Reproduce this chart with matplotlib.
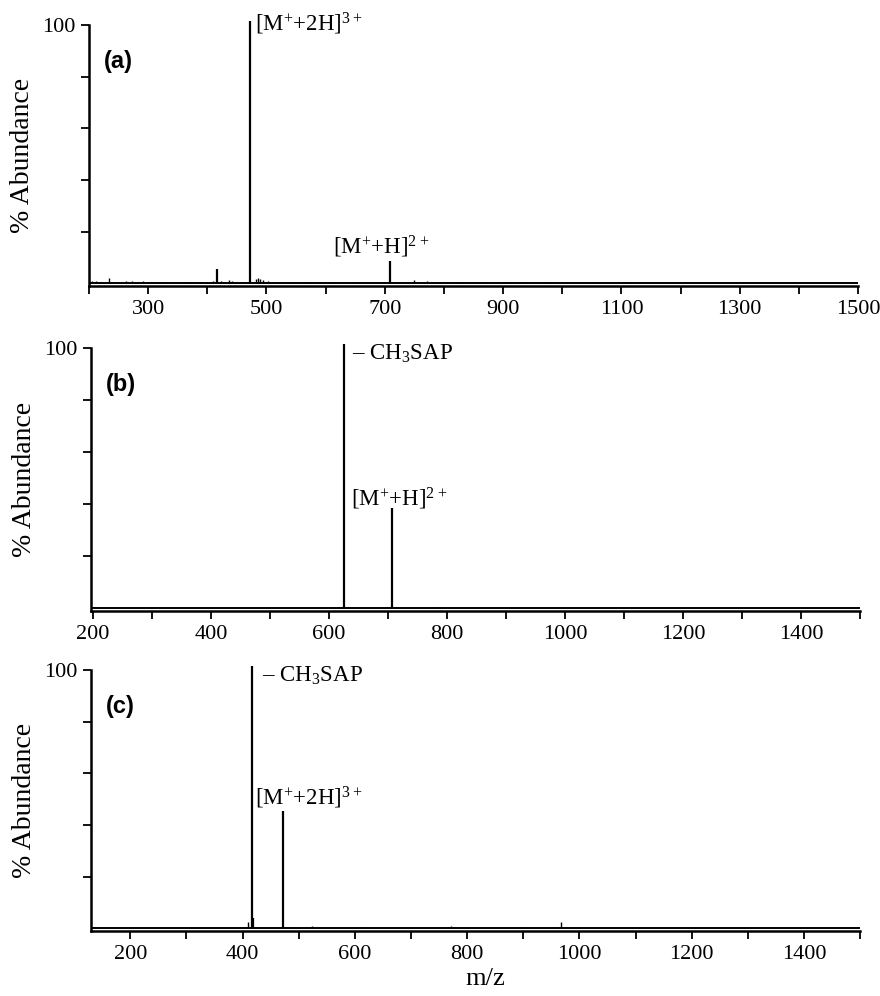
import matplotlib
matplotlib.use("Agg")
import matplotlib.pyplot as plt

plt.rcParams["font.family"] = "Liberation Serif"
plt.rcParams["mathtext.fontset"] = "custom"
plt.rcParams["mathtext.rm"] = "Liberation Serif"
plt.rcParams["mathtext.default"] = "regular"

# (a) full spectrum
a_mz = [205, 212, 234, 262, 272, 281, 291, 330, 368, 398, 410, 416, 423, 436, 442,
        472, 482, 486, 489, 494, 503, 515, 537, 568, 612, 650, 708, 750, 772, 790,
        828, 862, 904, 938, 972, 1062, 1108, 1168, 1252, 1422]
a_int = [1.0, 0.8, 2.0, 0.8, 0.9, 0.7, 1.0, 0.6, 0.5, 0.6, 1.0, 5.6, 1.1, 1.2, 0.9,
         101.5, 1.8, 2.0, 1.7, 1.2, 0.9, 0.7, 0.6, 0.7, 0.5, 0.6, 8.5, 1.4, 0.8, 0.6,
         0.5, 0.5, 0.5, 0.4, 0.5, 0.4, 0.4, 0.3, 0.3, 0.3]

# (b) CID of the 2+ ion
b_mz = [615, 625, 632, 660, 675, 690, 707, 712, 775, 790, 880, 890, 1050]
b_int = [0.4, 101.5, 0.5, 0.3, 0.3, 0.3, 38.5, 0.4, 0.4, 0.3, 0.3, 0.3, 0.2]

# (c) CID of the 3+ ion
c_mz = [410, 417, 419, 440, 455, 472, 482, 517, 523, 620, 690, 771, 820, 905, 955, 968]
c_int = [2.6, 101.5, 3.9, 0.3, 0.3, 45.5, 0.5, 0.6, 0.9, 0.4, 0.3, 0.8, 0.3, 0.5, 0.5, 2.5]

lab_3p = r"[M$^{+}$+2H]$^{3+}$"
lab_2p = r"[M$^{+}$+H]$^{2+}$"
lab_loss = r"– CH$_3$SAP"

fig = plt.figure(figsize=(8.8, 9.96), dpi=100)

panels = [
    # rect, xlim, major ticks, labelled ticks, mz, intensity, tag
    ([0.1011, 0.7129, 0.874, 0.2620], (200, 1500), range(200, 1501, 100),
     range(300, 1501, 200), a_mz, a_int, "(a)"),
    ([0.1034, 0.3865, 0.874, 0.2641], (197, 1500), range(200, 1501, 100),
     range(200, 1401, 200), b_mz, b_int, "(b)"),
    ([0.1034, 0.0653, 0.874, 0.2620], (130, 1500), range(200, 1501, 100),
     range(200, 1401, 200), c_mz, c_int, "(c)"),
]

axes = []
for rect, xl, ticks, labelled, mz, inten, tag in panels:
    ax = fig.add_axes(rect)
    ax.hlines(0, xl[0], xl[1], color="k", lw=1.4)
    lws = [1.6 if v > 3 else 1.0 for v in inten]
    ax.vlines(mz, 0, inten, color="k", lw=lws, clip_on=False)
    ax.set_xlim(*xl)
    ax.set_ylim(-1, 100)
    ax.set_xticks(list(ticks))
    ax.set_xticklabels([str(t) if t in labelled else "" for t in ticks])
    ax.set_yticks([20, 40, 60, 80, 100])
    ax.set_yticklabels(["", "", "", "", "100"])
    ax.tick_params(direction="out", length=6, width=1.3, labelsize=16, pad=4)
    for s in ["top", "right"]:
        ax.spines[s].set_visible(False)
    for s in ["left", "bottom"]:
        ax.spines[s].set_linewidth(1.8)
    ax.set_ylabel("% Abundance", fontsize=20, labelpad=5)
    ax.text(0.02, 0.86, tag, transform=ax.transAxes, fontsize=17,
            fontweight="bold", family="Liberation Sans", va="center")
    axes.append(ax)

ax_a, ax_b, ax_c = axes
fs = 16.5


def peak_label(ax, text, x, y, dx, dy, ha, va):
    ax.annotate(text, xy=(x, y), xytext=(dx, dy), textcoords="offset points",
                ha=ha, va=va, fontsize=fs, annotation_clip=False)


peak_label(ax_a, lab_3p, a_mz[15], a_int[15], 4, -2, "left", "center")
peak_label(ax_a, lab_2p, a_mz[26], a_int[26], -6, 1, "center", "bottom")

peak_label(ax_b, lab_loss, b_mz[1], b_int[1], 6, 1, "left", "top")
peak_label(ax_b, lab_2p, b_mz[6], b_int[6], 5, -3, "center", "bottom")

peak_label(ax_c, lab_loss, c_mz[1], c_int[1], 7, 1, "left", "top")
peak_label(ax_c, lab_3p, c_mz[5], c_int[5], -20, 0, "left", "bottom")

fig.text(0.551, 0.006, "m/z", ha="center", va="bottom", fontsize=19)

fig.savefig("out.png", dpi=100)
